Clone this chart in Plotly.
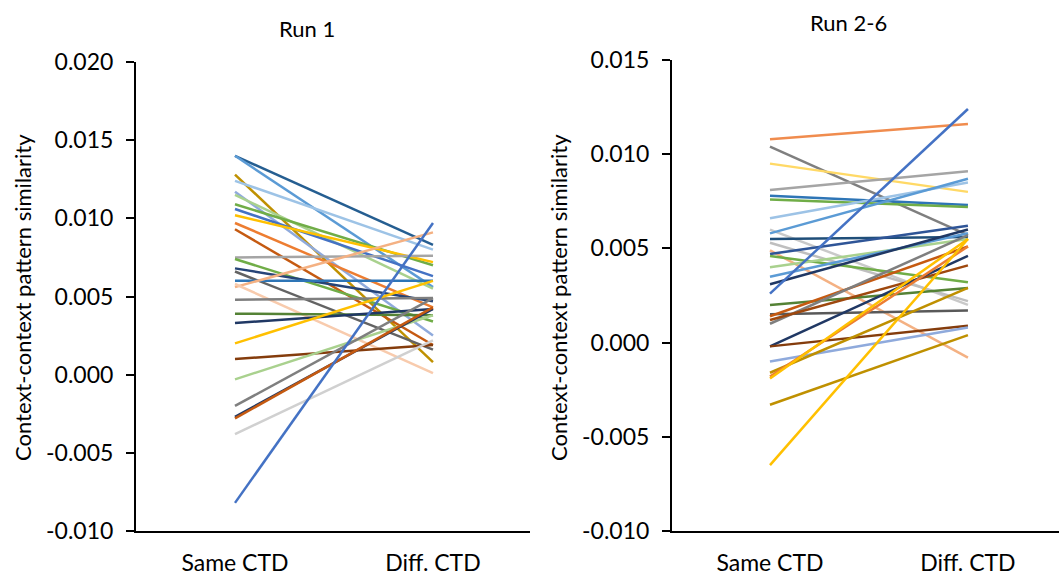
import plotly.graph_objects as go

categories = ["Same CTD", "Diff. CTD"]

# Run 1 (left panel)
run1_same = [0.0140, 0.0140, 0.0128, 0.0124, 0.0117, 0.0115, 0.0109, 0.0106, 0.0102, 0.0097,
             0.0093, 0.0075, 0.0074, 0.0068, 0.0066, 0.0060, 0.0056, 0.0058, 0.0048, 0.0039,
             0.0033, 0.0020, 0.0010, -0.0003, -0.0020, -0.0027, -0.0028, -0.0038, -0.0082]
run1_diff = [0.0083, 0.0056, 0.0008, 0.0080, 0.0025, 0.0055, 0.0070, 0.0063, 0.0072, 0.0043,
             0.0019, 0.0076, 0.0034, 0.0047, 0.0016, 0.0060, 0.0091, 0.0001, 0.0049, 0.0038,
             0.0042, 0.0060, 0.0019, 0.0038, 0.0049, 0.0042, 0.0043, 0.0022, 0.0097]
run1_colors = ["#255E91", "#5B9BD5", "#BF9000", "#9DC3E6", "#8FAADC", "#A9D18E", "#70AD47",
               "#4472C4", "#FFC000", "#ED7D31", "#C55A11", "#A5A5A5", "#70AD47", "#264478",
               "#636363", "#2E75B6", "#F4B183", "#F8CBAD", "#7F7F7F", "#548235", "#203864",
               "#FFC000", "#843C0C", "#A9D18E", "#7F7F7F", "#203864", "#C55A11", "#D0D0D0",
               "#4472C4"]

# Run 2-6 (right panel)
run26_same = [0.0108, 0.0104, 0.0095, 0.0081, 0.0078, 0.0076, 0.0066, 0.0060, 0.0058, 0.0055,
              0.0053, 0.0049, 0.0047, 0.0046, 0.0040, 0.0035, 0.0031, 0.0026, 0.0020, 0.0015,
              0.0014, 0.0010, 0.0012, -0.0002, -0.0002, -0.0010, -0.0016, -0.0018, -0.0019,
              -0.0033, -0.0065]
run26_diff = [0.0116, 0.0057, 0.0080, 0.0091, 0.0073, 0.0072, 0.0085, 0.0020, 0.0087, 0.0056,
              0.0022, -0.0008, 0.0062, 0.0032, 0.0055, 0.0058, 0.0060, 0.0124, 0.0029, 0.0017,
              0.0051, 0.0057, 0.0041, 0.0046, 0.0009, 0.0008, 0.0029, 0.0051, 0.0055,
              0.0004, 0.0055]
run26_colors = ["#F08C4E", "#7F7F7F", "#FFD966", "#A5A5A5", "#2E75B6", "#70AD47", "#9DC3E6",
                "#C9C9C9", "#5B9BD5", "#1F4E79", "#BFBFBF", "#F4B183", "#2F5597", "#70AD47",
                "#A9D18E", "#5B9BD5", "#203864", "#4472C4", "#548235", "#595959", "#C55A11",
                "#7F7F7F", "#9E480E", "#203864", "#843C0C", "#8FAADC", "#BF9000", "#ED7D31",
                "#FFC000", "#BF9000", "#FFC000"]

# Tick labels
run1_ticks = [-0.010, -0.005, 0.000, 0.005, 0.010, 0.015, 0.020]
run1_ticktext = ["-0.010", "-0.005", "0.000", "0.005", "0.010", "0.015", "0.020"]
run26_ticks = [-0.010, -0.005, 0.000, 0.005, 0.010, 0.015]
run26_ticktext = ["-0.010", "-0.005", "0.000", "0.005", "0.010", "0.015"]

fig = go.Figure()
for s, d, c in zip(run1_same, run1_diff, run1_colors):
    fig.add_trace(go.Scatter(x=categories, y=[s, d], mode="lines",
                             line=dict(color=c, width=2.5), xaxis="x", yaxis="y",
                             showlegend=False, hoverinfo="y"))
for s, d, c in zip(run26_same, run26_diff, run26_colors):
    fig.add_trace(go.Scatter(x=categories, y=[s, d], mode="lines",
                             line=dict(color=c, width=2.5), xaxis="x2", yaxis="y2",
                             showlegend=False, hoverinfo="y"))

W, H = 1061, 577
font = "Lato, 'Open Sans', sans-serif"

xcommon = dict(type="category", showline=True, linecolor="black", linewidth=2,
               ticks="", showgrid=False, zeroline=False, automargin=False,
               tickfont=dict(family=font, size=23, color="black"),
               ticklabelstandoff=10)
ycommon = dict(showline=True, linecolor="black", linewidth=2, ticks="outside",
               ticklen=8, tickwidth=2, tickcolor="black", showgrid=False, zeroline=False,
               automargin=False, tickfont=dict(family=font, size=23, color="black"),
               ticklabelstandoff=8)

fig.update_layout(
    width=W, height=H, margin=dict(l=0, r=0, t=0, b=0),
    plot_bgcolor="white", paper_bgcolor="white",
    xaxis=dict(xcommon, domain=[136 / W, 530 / W], range=[-0.5, 1.49]),
    yaxis=dict(ycommon, domain=[1 - 531 / H, 1 - 62 / H], range=[-0.010, 0.020],
               tickvals=run1_ticks, ticktext=run1_ticktext, anchor="x"),
    xaxis2=dict(xcommon, domain=[672 / W, 1059 / W], range=[-0.495, 1.46], anchor="y2"),
    yaxis2=dict(ycommon, domain=[1 - 531 / H, 1 - 60 / H], range=[-0.010, 0.015],
                tickvals=run26_ticks, ticktext=run26_ticktext, anchor="x2"),
    annotations=[
        dict(text="Run 1", x=307 / W, y=1 - 28 / H, xref="paper", yref="paper",
             xanchor="center", yanchor="middle",
             showarrow=False, font=dict(family=font, size=22, color="black")),
        dict(text="Run 2-6", x=848 / W, y=1 - 22 / H, xref="paper", yref="paper",
             xanchor="center", yanchor="middle",
             showarrow=False, font=dict(family=font, size=22, color="black")),
        dict(text="Context-context pattern similarity", x=22 / W, y=1 - 298 / H,
             xref="paper", yref="paper", showarrow=False, textangle=-90,
             xanchor="center", yanchor="middle",
             font=dict(family=font, size=22, color="black")),
        dict(text="Context-context pattern similarity", x=558 / W, y=1 - 298 / H,
             xref="paper", yref="paper", showarrow=False, textangle=-90,
             xanchor="center", yanchor="middle",
             font=dict(family=font, size=22, color="black")),
    ],
)

fig.write_html("out.html")
